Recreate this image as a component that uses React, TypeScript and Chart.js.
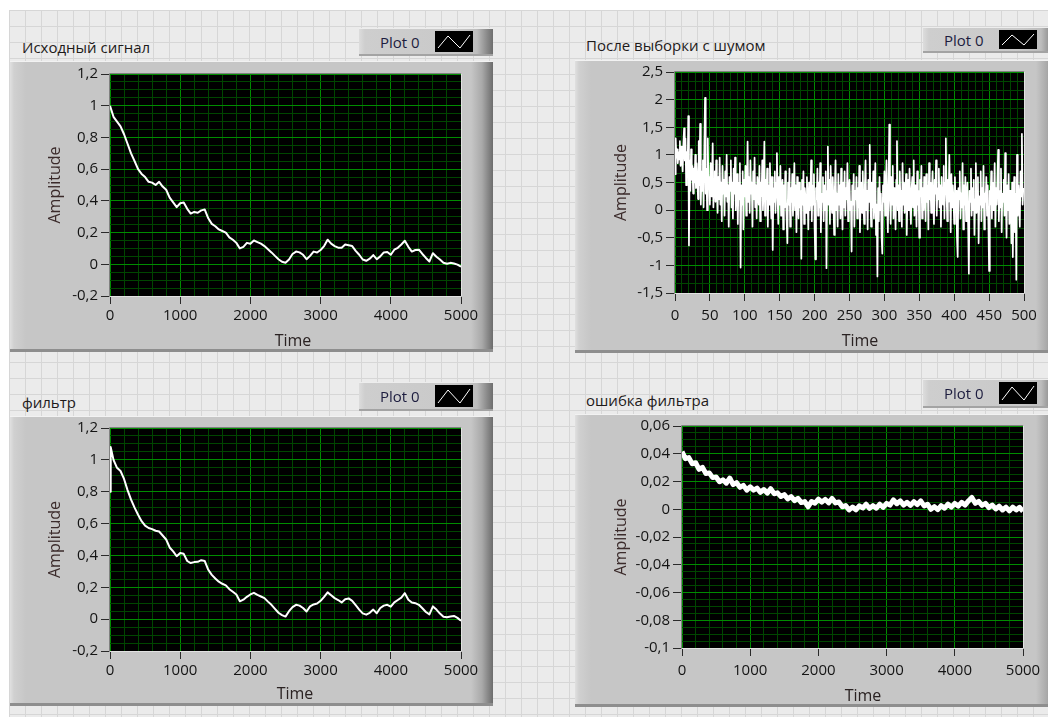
import React, { useEffect, useRef } from 'react';
import { Chart, registerables } from 'chart.js';

Chart.register(...registerables);

const FONT = '"Segoe UI", "Open Sans", "Noto Sans", sans-serif';

// ---------------- data ----------------
const signalTime = Array.from({ length: 101 }, (_, i) => i * 50);
const signalValues = [
  1.0, 0.93, 0.9, 0.87, 0.82, 0.76, 0.7, 0.65, 0.6, 0.57,
  0.55, 0.52, 0.515, 0.5, 0.52, 0.49, 0.47, 0.42, 0.39, 0.36,
  0.385, 0.39, 0.35, 0.32, 0.33, 0.325, 0.34, 0.345, 0.29, 0.255,
  0.24, 0.22, 0.21, 0.2, 0.17, 0.155, 0.135, 0.1, 0.11, 0.135,
  0.13, 0.15, 0.14, 0.13, 0.115, 0.095, 0.075, 0.053, 0.032, 0.016,
  0.01, 0.03, 0.065, 0.08, 0.075, 0.06, 0.032, 0.053, 0.08, 0.074,
  0.09, 0.115, 0.155, 0.13, 0.115, 0.105, 0.105, 0.125, 0.12, 0.115,
  0.085, 0.06, 0.03, 0.022, 0.035, 0.058, 0.032, 0.05, 0.075, 0.078,
  0.06, 0.092, 0.104, 0.125, 0.148, 0.11, 0.08, 0.09, 0.092, 0.065,
  0.04, 0.018, 0.07, 0.048, 0.03, 0.01, 0.003, 0.009, 0.005, -0.002,
  -0.015,
];

const filterTime = [0, 10, ...Array.from({ length: 100 }, (_, i) => (i + 1) * 50)];
const filterValues = [
  0.8, 1.08,
  1.0, 0.95, 0.93, 0.88, 0.81, 0.75, 0.7, 0.655, 0.615, 0.587,
  0.572, 0.565, 0.555, 0.55, 0.525, 0.5, 0.45, 0.425, 0.395, 0.415,
  0.41, 0.365, 0.352, 0.358, 0.36, 0.37, 0.365, 0.31, 0.278, 0.255,
  0.235, 0.222, 0.212, 0.188, 0.172, 0.155, 0.112, 0.122, 0.14, 0.155,
  0.165, 0.152, 0.142, 0.132, 0.11, 0.09, 0.065, 0.04, 0.025, 0.016,
  0.05, 0.075, 0.09, 0.085, 0.07, 0.048, 0.08, 0.092, 0.098, 0.115,
  0.14, 0.168, 0.15, 0.132, 0.12, 0.105, 0.125, 0.13, 0.115, 0.088,
  0.06, 0.036, 0.028, 0.04, 0.06, 0.037, 0.07, 0.085, 0.09, 0.078,
  0.105, 0.12, 0.135, 0.163, 0.122, 0.105, 0.1, 0.09, 0.068, 0.045,
  0.03, 0.08, 0.06, 0.035, 0.015, 0.012, 0.016, 0.02, 0.008, -0.01,
];

const noisyTime = Array.from({ length: 500 }, (_, i) => i);
const noisyValues = [
  0.65, 1.3, 0.95, 1.1, 0.85, 1.05, 0.92, 1.25, 0.8, 1.15, 0.95, 0.7, 1.2, 1.48, 0.9, 1.3, 0.45, 1.05, 0.6, 1.7,
  -0.64, 0.9, 0.35, 1.1, 0.55, 0.8, 0.3, 0.75, 0.5, 1.0, 0.4, 0.85, 0.6, 0.2, 1.25, 0.45, 1.56, 0.1, 0.7, 0.35,
  0.9, 0.05, 1.15, 2.03, 0.3, 0.75, 0.0, 1.3, 0.4, 0.6, 0.1, 0.85, 0.25, 0.55, 1.21, 0.05, 0.45, 0.7, 0.15, 0.9,
  0.35, -0.05, 0.6, 0.2, 0.95, 0.1, 0.5, -0.2, 0.8, 0.3, 0.55, -0.1, 0.7, 0.25, 1.0, 0.15, 0.45, -0.3, 0.6, 0.35,
  0.9, 0.05, 0.5, -0.15, 0.75, 0.3, 0.95, 0.0, 0.4, 0.65, -0.25, 0.5, 0.2, 0.85, -1.04, 0.45, 0.1, 0.7, -0.35, 0.55,
  0.25, 0.8, -0.1, 0.4, 1.24, 0.15, 0.6, -0.05, 0.9, 0.3, 0.5, -0.3, 0.7, 0.2, 0.95, 0.05, 0.45, -0.15, 0.6, 0.35,
  0.1, 0.8, -0.2, 0.5, 0.25, 0.9, 0.0, 0.4, 1.24, -0.1, 0.55, 0.2, 0.75, -0.3, 0.45, 0.1, 0.85, 0.3, -0.15, 0.6,
  -0.72, 0.4, 0.15, 0.7, -0.05, 0.5, 1.03, 0.2, -0.25, 0.6, 0.1, 0.8, -0.1, 0.35, 0.55, -0.35, 0.45, 0.05, 0.7, 0.2,
  -0.2, -0.6, 0.5, 0.1, 0.75, -0.3, 0.4, 0.15, 0.65, -0.1, 0.3, 0.85, 0.0, 0.45, -0.4, 0.6, 0.2, -0.15, 0.5, 0.05,
  0.35, -0.88, 0.55, 0.1, 0.7, -0.25, 0.4, 0.2, -0.05, 0.6, 0.15, -0.35, 0.5, 0.0, 0.3, 0.9, -0.2, 0.45, 0.1, 0.65,
  -0.3, -0.89, 0.4, 0.2, 0.75, -0.1, 0.5, 0.05, 0.85, -0.4, 0.3, 0.15, 0.6, -0.2, 0.45, 0.0, 0.7, -1.05, 0.35, 1.15,
  0.1, 0.55, -0.25, 0.8, 0.2, -0.05, 0.6, 0.15, -0.45, 0.4, 0.9, 0.0, 0.3, -0.3, 0.65, 0.1, 0.45, -0.15, 0.75, 0.25,
  -0.35, 0.5, 0.05, 0.7, -0.1, 0.4, 0.2, 0.85, -0.2, 0.3, 0.55, 0.0, 0.15, -0.75, 0.45, 0.1, 0.65, -0.3, 0.35, 0.2,
  0.6, -0.15, 0.4, 0.05, 0.8, -0.4, 0.25, 0.5, -0.05, 0.7, 0.1, -0.25, 0.45, 0.9, 0.0, 0.35, -0.35, 0.55, 0.15, 1.18,
  0.2, -0.3, 0.5, 0.05, 0.7, -0.15, 0.35, 0.85, -0.45, 0.1, -1.2, 0.4, -0.2, 0.6, 0.0, 0.3, -0.5, -0.79, 0.45, 0.15,
  0.7, -0.1, 0.35, 0.9, 0.05, -0.4, 0.5, 1.55, 0.2, -0.25, 0.6, 0.1, 0.8, -0.15, 0.4, 0.25, -0.35, 0.55, 1.25, 0.0,
  0.45, -0.2, 0.7, 0.15, 0.35, -0.3, 0.85, 0.1, 0.5, -0.05, 0.3, 0.65, -0.45, 0.2, 0.55, 0.0, 0.75, 0.1, -0.25, 0.4,
  0.6, 0.05, 0.9, -0.1, 0.45, 0.2, -0.3, 0.7, 0.1, 0.35, -0.5, 0.55, 0.25, 0.8, -0.15, 0.4, 0.0, 0.6, 0.3, -0.2,
  0.65, 0.15, 0.45, -0.35, 0.85, 0.2, 0.5, -0.05, 0.35, 0.7, 0.1, -0.25, 0.55, 0.3, 0.9, -0.1, 0.4, 0.2, 0.75, 0.05,
  0.45, -0.3, 0.6, 0.25, 0.1, 0.8, -0.15, 0.5, 1.3, 0.35, -0.2, 0.55, 0.15, 1.0, 0.3, -0.4, 0.65, 0.05, 0.45, 0.2,
  -0.25, 0.6, 0.1, 0.35, -0.5, -0.85, 0.4, 0.2, 0.7, -0.15, 0.3, 0.05, 0.85, -0.35, 0.45, 0.1, 0.6, -0.2, 0.25, 0.5,
  -0.3, -1.15, 0.35, 0.15, 0.75, -0.1, 0.4, 0.0, 0.55, -0.45, 0.2, 0.85, -0.05, 0.3, 0.6, -0.6, 0.25, 0.1, 0.7, -0.2,
  0.4, 0.05, 0.8, -0.35, 0.3, 0.15, 0.6, -0.1, 0.45, -0.25, -1.1, 0.35, 0.1, 0.7, -0.15, 0.5, 0.0, 0.25, 0.85, -0.3,
  0.4, 0.1, 0.6, 1.09, -0.2, 0.35, 0.05, 0.75, -0.4, 0.3, 0.15, 0.55, -0.1, 1.03, 0.2, -0.5, 0.45, 0.0, 0.65, -0.25,
  0.35, 0.1, -0.6, 0.5, -0.85, 0.2, 0.6, -0.4, 0.3, -1.26, 1.0, -0.1, 0.45, 0.15, -0.3, 0.7, 0.25, 1.38, 0.1, 0.4,
];

const errorTime = Array.from({ length: 101 }, (_, i) => i * 50);
const errorValues = [
  0.0415, 0.0365, 0.0372, 0.0328, 0.0335, 0.0288, 0.0302, 0.0258, 0.0262, 0.0228,
  0.0232, 0.0198, 0.0212, 0.0188, 0.0225, 0.0178, 0.0192, 0.0158, 0.0172, 0.0138,
  0.0162, 0.0138, 0.0152, 0.0122, 0.0142, 0.0116, 0.0148, 0.0112, 0.0118, 0.0092,
  0.0105, 0.0075, 0.0091, 0.0062, 0.0078, 0.0048, 0.0055, 0.0018, 0.0056, 0.0044,
  0.0072, 0.0051, 0.0071, 0.0046, 0.0078, 0.0046, 0.0052, 0.0018, 0.0026, -0.0005,
  0.0016, -0.0004, 0.0025, 0.0009, 0.0036, 0.0006, 0.0026, 0.0008, 0.0036, 0.0014,
  0.0042, 0.003, 0.0067, 0.004, 0.006, 0.003, 0.005, 0.0028, 0.0055, 0.0034,
  0.006, 0.0024, 0.0036, 0.0, 0.0019, -0.0002, 0.0026, 0.0008, 0.0036, 0.0015,
  0.0042, 0.0023, 0.005, 0.003, 0.006, 0.0085, 0.0043, 0.0057, 0.0028, 0.0042,
  0.0012, 0.003, 0.0002, 0.0022, -0.0005, 0.0015, -0.0012, 0.0016, -0.0005, 0.0014,
  -0.0015,
];

// axis major ticks
const timeTicks5000 = [0, 1000, 2000, 3000, 4000, 5000];
const timeTicks500 = [0, 50, 100, 150, 200, 250, 300, 350, 400, 450, 500];
const ampTicksSignal = [-0.2, 0, 0.2, 0.4, 0.6, 0.8, 1, 1.2];
const ampTicksNoisy = [-1.5, -1, -0.5, 0, 0.5, 1, 1.5, 2, 2.5];
const ampTicksError = [-0.1, -0.08, -0.06, -0.04, -0.02, 0, 0.02, 0.04, 0.06];

// ---------------- helpers ----------------
function fmt(v: number): string {
  let s = (Math.round(v * 1e6) / 1e6).toString();
  if (s === '-0') s = '0';
  return s.replace('.', ',');
}

function buildTicks(majors: number[], sub: number): number[] {
  const out: number[] = [];
  for (let i = 0; i < majors.length - 1; i++) {
    const a = majors[i];
    const b = majors[i + 1];
    for (let k = 0; k < sub; k++) out.push(a + ((b - a) * k) / sub);
  }
  out.push(majors[majors.length - 1]);
  return out;
}

function isMajor(v: number, majors: number[]): boolean {
  return majors.some((m) => Math.abs(m - v) < 1e-9);
}

const MAJOR_GRID = '#008c00';
const MINOR_GRID = '#004600';
const TICK_FONT = 15;
const TITLE_FONT = 16;

const plotFramePlugin = {
  id: 'plotFrame',
  beforeDraw(chart: any) {
    const { ctx, chartArea: a } = chart;
    ctx.save();
    ctx.fillStyle = '#000';
    ctx.fillRect(a.left, a.top, a.right - a.left, a.bottom - a.top);
    ctx.restore();
  },
  afterDraw(chart: any) {
    const { ctx, chartArea: a } = chart;
    ctx.save();
    ctx.lineWidth = 1;
    ctx.strokeStyle = '#808080';
    ctx.beginPath();
    ctx.moveTo(a.left - 0.5, a.bottom + 0.5);
    ctx.lineTo(a.left - 0.5, a.top - 0.5);
    ctx.lineTo(a.right + 0.5, a.top - 0.5);
    ctx.stroke();
    ctx.strokeStyle = '#e2e2e2';
    ctx.beginPath();
    ctx.moveTo(a.right + 0.5, a.top - 0.5);
    ctx.lineTo(a.right + 0.5, a.bottom + 0.5);
    ctx.lineTo(a.left - 0.5, a.bottom + 0.5);
    ctx.stroke();
    ctx.restore();
  },
};

type PanelCfg = {
  frame: { l: number; t: number; w: number; h: number };
  plot: { l: number; t: number; r: number; b: number };
  title: string;
  titlePos: [number, number];
  legendPos: [number, number, number];
  timePos: [number, number];
  yTitleX: number;
  xLabelPad: number;
  xs: number[];
  ys: number[];
  xMajors: number[];
  xSub: number;
  yMajors: number[];
  ySub: number;
  lineWidth: number;
};

function Legend({ left, top, height }: { left: number; top: number; height: number }) {
  const iconH = height - 7;
  return (
    <div
      style={{
        position: 'absolute',
        left,
        top,
        width: 134,
        height,
        boxSizing: 'border-box',
        background:
          'linear-gradient(to right, #dcdcdc 0px, #cecece 6px, #c9c9c9 95px, #bdbdbd 118px, #8a8a8a 128px, #6e6e6e 134px)',
        borderTop: '1px solid #ededed',
        borderBottom: '2px solid #a3a3a3',
      }}
    >
      <span
        style={{
          position: 'absolute',
          left: 21,
          top: '50%',
          transform: 'translateY(-50%)',
          font: `15px ${FONT}`,
          color: '#1d1d3f',
          whiteSpace: 'nowrap',
          lineHeight: 1,
        }}
      >
        Plot 0
      </span>
      <div style={{ position: 'absolute', left: 76, top: 2, width: 38, height: iconH, background: '#000' }}>
        <svg width={38} height={iconH} style={{ display: 'block' }}>
          <polyline
            points={`3,${iconH - 4} 13,5 25,${iconH - 4} 35,4`}
            fill="none"
            stroke="#ffffff"
            strokeWidth={1}
          />
        </svg>
      </div>
    </div>
  );
}

function Panel({ cfg }: { cfg: PanelCfg }) {
  const ref = useRef<HTMLCanvasElement | null>(null);
  const { frame, plot } = cfg;

  useEffect(() => {
    if (!ref.current) return;
    const xTicks = buildTicks(cfg.xMajors, cfg.xSub);
    const yTicks = buildTicks(cfg.yMajors, cfg.ySub);
    const yW = plot.l - frame.l;
    const xH = frame.t + frame.h - plot.b;
    const padTop = plot.t - frame.t;
    const padRight = frame.l + frame.w - plot.r;
    const points = cfg.xs.map((x, i) => ({ x, y: cfg.ys[i] }));

    const chart = new Chart(ref.current, {
      type: 'line',
      data: {
        datasets: [
          {
            data: points,
            borderColor: '#ffffff',
            borderWidth: cfg.lineWidth,
            pointRadius: 0,
            tension: 0,
            fill: false,
            borderJoinStyle: 'round',
          } as any,
        ],
      },
      options: {
        animation: false,
        responsive: false,
        devicePixelRatio: 1,
        events: [],
        layout: { padding: { top: padTop, right: padRight, left: 0, bottom: 0 } },
        plugins: { legend: { display: false }, tooltip: { enabled: false } },
        scales: {
          x: {
            type: 'linear',
            min: cfg.xMajors[0],
            max: cfg.xMajors[cfg.xMajors.length - 1],
            afterBuildTicks: (s: any) => {
              s.ticks = xTicks.map((value) => ({ value }));
            },
            afterFit: (s: any) => {
              s.height = xH;
            },
            border: { display: false },
            grid: {
              lineWidth: 1,
              tickLength: 8,
              color: (c: any) => (isMajor(c.tick.value, cfg.xMajors) ? MAJOR_GRID : MINOR_GRID),
              tickColor: (c: any) => (isMajor(c.tick.value, cfg.xMajors) ? '#2a2a2a' : 'rgba(0,0,0,0)'),
            },
            ticks: {
              autoSkip: false,
              maxRotation: 0,
              minRotation: 0,
              padding: cfg.xLabelPad,
              color: '#141414',
              font: { family: FONT, size: TICK_FONT },
              callback: (v: any) => (isMajor(Number(v), cfg.xMajors) ? fmt(Number(v)) : ''),
            },
            title: { display: false },
          },
          y: {
            type: 'linear',
            min: cfg.yMajors[0],
            max: cfg.yMajors[cfg.yMajors.length - 1],
            afterBuildTicks: (s: any) => {
              s.ticks = yTicks.map((value) => ({ value }));
            },
            afterFit: (s: any) => {
              s.width = yW;
            },
            border: { display: false },
            grid: {
              lineWidth: 1,
              tickLength: 9,
              color: (c: any) => (isMajor(c.tick.value, cfg.yMajors) ? MAJOR_GRID : MINOR_GRID),
              tickColor: (c: any) => (isMajor(c.tick.value, cfg.yMajors) ? '#2a2a2a' : 'rgba(0,0,0,0)'),
            },
            ticks: {
              autoSkip: false,
              padding: 3,
              color: '#141414',
              font: { family: FONT, size: TICK_FONT },
              callback: (v: any) => (isMajor(Number(v), cfg.yMajors) ? fmt(Number(v)) : ''),
            },
            title: {
              display: true,
              text: 'Amplitude',
              color: '#3b2b2b',
              font: { family: FONT, size: TITLE_FONT },
              padding: { top: cfg.yTitleX - frame.l - (TITLE_FONT * 1.2) / 2, bottom: 0 },
            },
          },
        },
      },
      plugins: [plotFramePlugin],
    } as any);
    return () => chart.destroy();
  }, []);

  return (
    <>
      <div
        style={{
          position: 'absolute',
          left: frame.l,
          top: frame.t,
          width: frame.w,
          height: frame.h,
          boxSizing: 'border-box',
          background:
            'linear-gradient(to right, #e0e0e0 0px, #d0d0d0 4px, #c6c6c6 16px, #c6c6c6 calc(100% - 22px), #a9a9a9 calc(100% - 11px), #6c6c6c 100%)',
          borderTop: '1px solid #f2f2f2',
          borderBottom: '3px solid #8e8e8e',
        }}
      />
      <canvas
        ref={ref}
        width={frame.w}
        height={frame.h}
        style={{ position: 'absolute', left: frame.l, top: frame.t, width: frame.w, height: frame.h }}
      />
      <div
        style={{
          position: 'absolute',
          left: cfg.titlePos[0],
          top: cfg.titlePos[1],
          transform: 'translateY(-50%)',
          font: `15px ${FONT}`,
          color: '#1e1a1a',
          whiteSpace: 'nowrap',
          lineHeight: 1,
        }}
      >
        {cfg.title}
      </div>
      <Legend left={cfg.legendPos[0]} top={cfg.legendPos[1]} height={cfg.legendPos[2]} />
      <div
        style={{
          position: 'absolute',
          left: cfg.timePos[0],
          top: cfg.timePos[1],
          transform: 'translate(-50%, -50%)',
          font: `${TITLE_FONT}px ${FONT}`,
          color: '#2a2222',
          whiteSpace: 'nowrap',
          lineHeight: 1,
        }}
      >
        Time
      </div>
    </>
  );
}

const panels: PanelCfg[] = [
  {
    frame: { l: 10, t: 61, w: 483, h: 291 },
    plot: { l: 110, t: 74, r: 461, b: 296 },
    title: 'Исходный сигнал',
    titlePos: [22, 47],
    legendPos: [359, 28, 28],
    timePos: [293, 340],
    yTitleX: 55,
    xLabelPad: 3,
    xs: signalTime,
    ys: signalValues,
    xMajors: timeTicks5000,
    xSub: 5,
    yMajors: ampTicksSignal,
    ySub: 4,
    lineWidth: 2,
  },
  {
    frame: { l: 575, t: 60, w: 483, h: 293 },
    plot: { l: 675, t: 72, r: 1024, b: 293 },
    title: 'После выборки с шумом',
    titlePos: [586, 45],
    legendPos: [923, 27, 26],
    timePos: [860, 340],
    yTitleX: 621,
    xLabelPad: 6,
    xs: noisyTime,
    ys: noisyValues,
    xMajors: timeTicks500,
    xSub: 5,
    yMajors: ampTicksNoisy,
    ySub: 3,
    lineWidth: 1.7,
  },
  {
    frame: { l: 10, t: 416, w: 483, h: 290 },
    plot: { l: 110, t: 428, r: 461, b: 651 },
    title: 'фильтр',
    titlePos: [22, 402],
    legendPos: [359, 382, 29],
    timePos: [295, 693],
    yTitleX: 55,
    xLabelPad: 3,
    xs: filterTime,
    ys: filterValues,
    xMajors: timeTicks5000,
    xSub: 5,
    yMajors: ampTicksSignal,
    ySub: 4,
    lineWidth: 2,
  },
  {
    frame: { l: 575, t: 414, w: 483, h: 293 },
    plot: { l: 682, t: 426, r: 1023, b: 648 },
    title: 'ошибка фильтра',
    titlePos: [586, 400],
    legendPos: [923, 379, 29],
    timePos: [863, 695],
    yTitleX: 621,
    xLabelPad: 6,
    xs: errorTime,
    ys: errorValues,
    xMajors: timeTicks5000,
    xSub: 5,
    yMajors: ampTicksError,
    ySub: 4,
    lineWidth: 5,
  },
];

export default function App() {
  return (
    <div
      style={{
        position: 'absolute',
        left: 0,
        top: 0,
        width: 1048,
        height: 717,
        overflow: 'hidden',
        background: '#ffffff',
      }}
    >
      <div
        style={{
          position: 'absolute',
          left: 9,
          top: 10,
          right: 0,
          bottom: 0,
          backgroundColor: '#ebebeb',
          backgroundImage:
            'linear-gradient(to bottom, #d6d6d6 1px, transparent 1px), linear-gradient(to right, #d6d6d6 1px, transparent 1px)',
          backgroundSize: '16px 16px',
        }}
      />
      {panels.map((p, i) => (
        <Panel key={i} cfg={p} />
      ))}
    </div>
  );
}
